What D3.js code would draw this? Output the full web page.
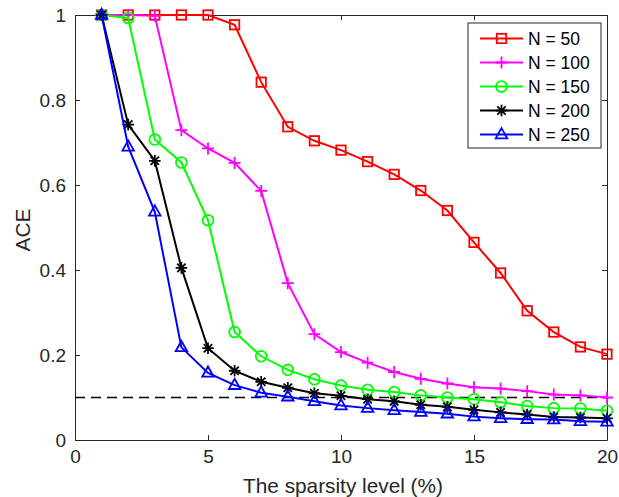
<!DOCTYPE html>
<html><head><meta charset="utf-8">
<script src="https://cdn.jsdelivr.net/npm/d3@7"></script>
<style>body{margin:0;background:#fff}svg{display:block}</style>
</head><body>
<script>
const sparsity = d3.range(1, 21);
const seriesNames = ["N = 50", "N = 100", "N = 150", "N = 200", "N = 250"];
const n50  = [1.0,1.0,1.0,1.0,1.0,0.977,0.842,0.737,0.704,0.682,0.655,0.625,0.587,0.540,0.465,0.393,0.304,0.254,0.219,0.202];
const n100 = [1.0,1.0,0.998,0.729,0.686,0.652,0.586,0.369,0.249,0.207,0.182,0.160,0.144,0.133,0.124,0.121,0.115,0.107,0.105,0.100];
const n150 = [1.0,0.993,0.707,0.653,0.517,0.254,0.197,0.165,0.143,0.128,0.118,0.113,0.105,0.100,0.096,0.089,0.080,0.075,0.074,0.069];
const n200 = [1.0,0.742,0.657,0.405,0.216,0.163,0.137,0.123,0.110,0.104,0.096,0.091,0.083,0.078,0.071,0.065,0.060,0.054,0.053,0.051];
const n250 = [1.0,0.690,0.537,0.218,0.158,0.129,0.111,0.102,0.091,0.081,0.075,0.070,0.066,0.062,0.055,0.051,0.049,0.048,0.044,0.043];
const thresholdValue = 0.1;
const xTicks = [0,5,10,15,20];
const yTicks = [0,0.2,0.4,0.6,0.8,1];
const yTickLabels = ["0","0.2","0.4","0.6","0.8","1"];
const xLabel = "The sparsity level (%)";
const yLabel = "ACE";

const allValues = [n50,n100,n150,n200,n250];
const colors = ["#ff0000","#ff00ff","#00ff00","#000000","#0000ff"];
const markers = ["square","plus","circle","star","triangle"];

const W = 619, H = 497;
const m = {left:75, right:12, top:15, bottom:57};
const svg = d3.select("body").append("svg").attr("width",W).attr("height",H);
const x = d3.scaleLinear().domain([0,20]).range([m.left, W-m.right]);
const y = d3.scaleLinear().domain([0,1]).range([H-m.bottom, m.top]);
const axisColor = "#262626";
const font = "'Liberation Sans', Arial, Helvetica, sans-serif";

// axes
const gx = svg.append("g").attr("transform",`translate(0,${y(0)})`)
  .call(d3.axisBottom(x).tickValues(xTicks).tickSizeInner(-5).tickSizeOuter(0).tickPadding(10));
const gxt = svg.append("g").attr("transform",`translate(0,${y(1)})`)
  .call(d3.axisTop(x).tickValues(xTicks).tickSizeInner(-5).tickSizeOuter(0).tickFormat(""));
const gy = svg.append("g").attr("transform",`translate(${x(0)},0)`)
  .call(d3.axisLeft(y).tickValues(yTicks).tickSizeInner(-5).tickSizeOuter(0).tickPadding(9).tickFormat((d,i)=>yTickLabels[i]));
const gyr = svg.append("g").attr("transform",`translate(${x(20)},0)`)
  .call(d3.axisRight(y).tickValues(yTicks).tickSizeInner(-5).tickSizeOuter(0).tickFormat(""));
[gx,gxt,gy,gyr].forEach(g=>{
  g.selectAll("path").attr("stroke",axisColor).attr("stroke-width",1);
  g.selectAll("line").attr("stroke",axisColor).attr("stroke-width",1);
  g.selectAll("text").attr("fill",axisColor).style("font-family",font).style("font-size","19px");
});

// dashed threshold
svg.append("line").attr("x1",x(0)).attr("x2",x(20)).attr("y1",y(thresholdValue)).attr("y2",y(thresholdValue))
  .attr("stroke","#000").attr("stroke-width",1.5).attr("stroke-dasharray","10,6");

function drawMarker(g, type, cx, cy, color){
  const sw = 1.8;
  if(type==="square"){
    g.append("rect").attr("x",cx-4.7).attr("y",cy-4.7).attr("width",9.4).attr("height",9.4)
      .attr("fill","none").attr("stroke",color).attr("stroke-width",sw);
  } else if(type==="circle"){
    g.append("circle").attr("cx",cx).attr("cy",cy).attr("r",5.4)
      .attr("fill","none").attr("stroke",color).attr("stroke-width",sw);
  } else if(type==="plus"){
    g.append("path").attr("d",`M${cx-6},${cy}H${cx+6}M${cx},${cy-6}V${cy+6}`)
      .attr("stroke",color).attr("stroke-width",sw).attr("fill","none");
  } else if(type==="star"){
    const r=5.8, rd=r*0.72;
    g.append("path").attr("d",`M${cx-r},${cy}H${cx+r}M${cx},${cy-r}V${cy+r}M${cx-rd},${cy-rd}L${cx+rd},${cy+rd}M${cx-rd},${cy+rd}L${cx+rd},${cy-rd}`)
      .attr("stroke",color).attr("stroke-width",sw).attr("fill","none");
  } else if(type==="triangle"){
    const r=6.4;
    g.append("path").attr("d",`M${cx},${cy-r}L${cx+r*0.9},${cy+r*0.6}L${cx-r*0.9},${cy+r*0.6}Z`)
      .attr("stroke",color).attr("stroke-width",sw).attr("fill","none");
  }
}

const line = d3.line().x((d,i)=>x(sparsity[i])).y(d=>y(d));
allValues.forEach((vals,k)=>{
  const g = svg.append("g");
  g.append("path").datum(vals).attr("d",line).attr("fill","none")
    .attr("stroke",colors[k]).attr("stroke-width",2);
  vals.forEach((v,i)=>drawMarker(g, markers[k], x(sparsity[i]), y(v), colors[k]));
});

// legend
const lg = svg.append("g");
const lx = 468, ly = 23, lw = 133, lh = 125;
lg.append("rect").attr("x",lx).attr("y",ly).attr("width",lw).attr("height",lh)
  .attr("fill","#fff").attr("stroke","#262626").attr("stroke-width",1);
seriesNames.forEach((name,k)=>{
  const yy = ly + 15.5 + k*24;
  lg.append("line").attr("x1",lx+12).attr("x2",lx+55).attr("y1",yy).attr("y2",yy)
    .attr("stroke",colors[k]).attr("stroke-width",2);
  drawMarker(lg, markers[k], lx+33.5, yy, colors[k]);
  lg.append("text").attr("x",lx+60).attr("y",yy+6.3).text(name)
    .attr("fill","#000").style("font-family",font).style("font-size","17.5px");
});

// labels
svg.append("text").attr("x",343).attr("y",493).attr("text-anchor","middle")
  .text(xLabel).attr("fill",axisColor).style("font-family",font).style("font-size","20.8px");
svg.append("text").attr("transform",`translate(30,230) rotate(-90)`).attr("text-anchor","middle")
  .text(yLabel).attr("fill",axisColor).style("font-family",font).style("font-size","20.8px");
</script>
</body></html>
